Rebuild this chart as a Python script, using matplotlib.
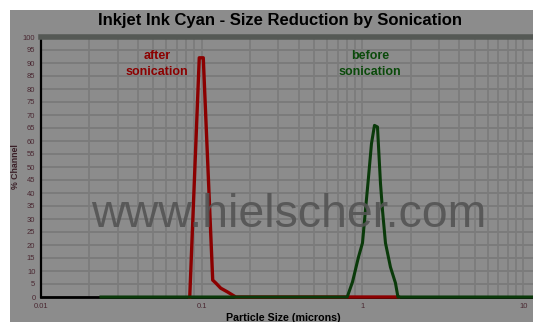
import matplotlib
matplotlib.use('Agg')
import matplotlib.pyplot as plt
from matplotlib.patches import Rectangle
from matplotlib.ticker import LogLocator, NullFormatter, FixedLocator, FixedFormatter

plt.rcParams['font.family'] = ['Liberation Sans', 'DejaVu Sans']

# ---- data ----
after_size = [0.0842, 0.0965, 0.1022, 0.1170, 0.1222, 0.1312, 0.1450, 0.1626, 1.674]
after_pct = [0, 92, 92, 6.5, 5.4, 3.4, 1.9, 0, 0]

before_size = [0.0236, 0.8035, 0.8667, 0.9445, 1.000, 1.0438, 1.0896, 1.1374, 1.1872,
               1.2394, 1.2936, 1.3312, 1.3896, 1.4925, 1.6032, 1.6615, 11.5]
before_pct = [0, 0, 5.8, 15.4, 20.8, 33.5, 46, 59, 66,
              65.4, 43.8, 33.5, 20.8, 11.5, 5.4, 0, 0]

x_ticks = [0.01, 0.1, 1, 10]
x_tick_labels = ['0.01', '0.1', '1', '10']
y_ticks = list(range(0, 101, 5))

title = 'Inkjet Ink Cyan - Size Reduction by Sonication'
xlabel = 'Particle Size (microns)'
ylabel = '% Channel'

W, H = 533, 322
BG = '#8c8c8c'
fig = plt.figure(figsize=(W / 100, H / 100), dpi=100, facecolor='white')
fig.patches.append(Rectangle((10 / W, 0), 1 - 10 / W, 1 - 10 / H, transform=fig.transFigure,
                             facecolor=BG, edgecolor='none', zorder=-10))

ax = fig.add_axes([41 / W, 25 / H, (W - 41) / W, (297 - 37) / H])
ax.set_facecolor(BG)
ax.set_xscale('log')
ax.set_xlim(0.01, 11.5)
ax.set_ylim(0, 100)

ax.xaxis.set_major_locator(FixedLocator(x_ticks))
ax.xaxis.set_major_formatter(FixedFormatter(x_tick_labels))
ax.xaxis.set_minor_locator(LogLocator(base=10, subs=[2, 3, 4, 5, 6, 7, 8, 9]))
ax.xaxis.set_minor_formatter(NullFormatter())
ax.set_yticks(y_ticks)

ax.xaxis.grid(True, which='both', color='#7b7b7b', lw=1.2)
ax.yaxis.grid(True, which='major', color='#7b7b7b', lw=1.4)
ax.tick_params(which='both', length=0, labelsize=5.5, labelcolor='#4a2832', pad=4)

ax.spines['right'].set_visible(False)
ax.spines['top'].set_color('#555955')
ax.spines['top'].set_linewidth(4)
ax.spines['left'].set_color('black')
ax.spines['left'].set_linewidth(1.6)
ax.spines['bottom'].set_color('black')
ax.spines['bottom'].set_linewidth(2)

fig.text(289 / W, 1 - 215 / H, 'www.hielscher.com', fontsize=33.5, color='#545454',
         alpha=0.9, ha='center', va='center', zorder=1)

ax.plot(after_size, after_pct, color='#8b0000', lw=2.4, zorder=3, clip_on=False)
ax.plot(before_size, before_pct, color='#0a3a0a', lw=2.2, zorder=4, clip_on=False)

fig.text(157 / W, 1 - 64 / H, 'after\nsonication', color='#8b0000', fontsize=9,
         fontweight='bold', ha='center', va='center', multialignment='center', linespacing=1.35)
fig.text(370 / W, 1 - 64 / H, 'before\nsonication', color='#0a4a0a', fontsize=9,
         fontweight='bold', ha='center', va='center', multialignment='center', linespacing=1.35)

fig.text(280 / W, 1 - 20 / H, title, fontsize=12, fontweight='bold', ha='center', va='center')
fig.text(283 / W, 1 - 318 / H, xlabel, fontsize=7.7, fontweight='bold', ha='center', va='center')
fig.text(15 / W, 1 - 167 / H, ylabel, fontsize=6.3, fontweight='bold', color='#3a2028',
         rotation=90, ha='center', va='center')

fig.savefig('out.png', dpi=100, facecolor='white')
